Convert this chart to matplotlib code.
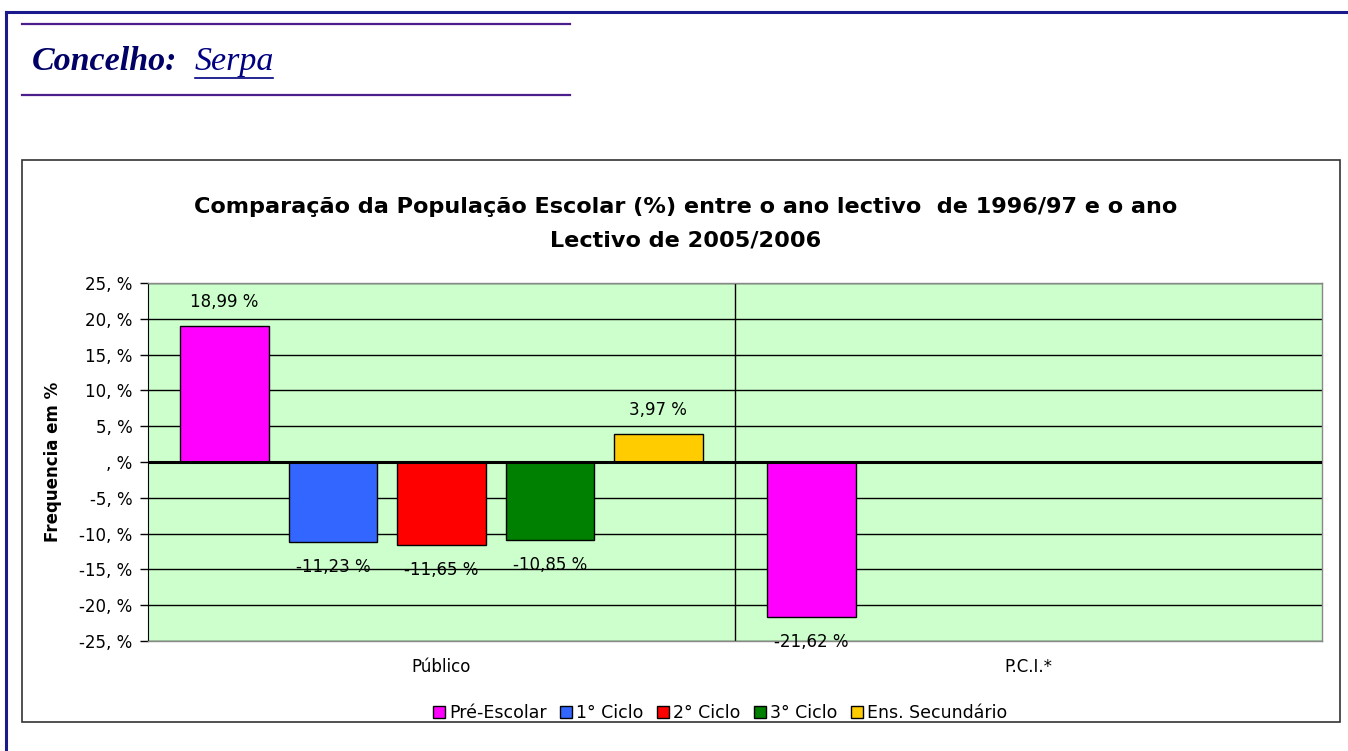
import matplotlib
matplotlib.use("Agg")
import matplotlib.pyplot as plt
import numpy as np
from matplotlib.patches import Rectangle
from matplotlib.lines import Line2D

categories = ["Público", "P.C.I.*"]
series_names = ["Pré-Escolar", "1° Ciclo", "2° Ciclo", "3° Ciclo", "Ens. Secundário"]
series_colors = ["#FF00FF", "#3366FF", "#FF0000", "#008000", "#FFCC00"]
values = [
    [18.99, -21.62],
    [-11.23, np.nan],
    [-11.65, np.nan],
    [-10.85, np.nan],
    [3.97, np.nan],
]
yticks = [25, 20, 15, 10, 5, 0, -5, -10, -15, -20, -25]
ytick_labels = ["25, %", "20, %", "15, %", "10, %", "5, %", ", %", "-5, %", "-10, %", "-15, %", "-20, %", "-25, %"]

W, H = 1348, 751
plt.rcParams['font.family'] = ['DejaVu Sans']
fig = plt.figure(figsize=(W / 100, H / 100), dpi=100)
fig.patch.set_facecolor("white")

def fx(x):
    return x / W

def fy(y):
    return 1 - y / H

# page border (navy)
fig.add_artist(Line2D([fx(6), fx(1348)], [fy(12), fy(12)], color="#1a1a8c", lw=2.2))
fig.add_artist(Line2D([fx(6), fx(6)], [fy(12), fy(751)], color="#1a1a8c", lw=2.2))
# purple rules
fig.add_artist(Line2D([fx(22), fx(570)], [fy(24), fy(24)], color="#4B1E8C", lw=1.6))
fig.add_artist(Line2D([fx(22), fx(570)], [fy(95), fy(95)], color="#4B1E8C", lw=1.6))
fig.text(fx(32), fy(62), "Concelho:", family="Liberation Serif", style="italic", weight="bold",
         fontsize=24.5, color="#000066", va="center", ha="left")
fig.text(fx(195), fy(62), "Serpa", family="Liberation Serif", style="italic",
         fontsize=24.5, color="#000080", va="center", ha="left")
fig.add_artist(Line2D([fx(195), fx(273)], [fy(78), fy(78)], color="#000080", lw=1.2))

# chart box
fig.add_artist(Rectangle((fx(22), fy(722)), fx(1340) - fx(22), fy(160) - fy(722),
                         fill=False, edgecolor="#333333", lw=1.2))

fig.text(fx(686), fy(207), "Comparação da População Escolar (%) entre o ano lectivo  de 1996/97 e o ano",
         ha="center", va="center", fontsize=16.1, weight="bold")
fig.text(fx(686), fy(241), "Lectivo de 2005/2006", ha="center", va="center", fontsize=16.1, weight="bold")

ax = fig.add_axes([fx(148), fy(641), fx(1322) - fx(148), fy(283) - fy(641)])
ax.set_facecolor("#CCFFCC")
ax.set_xlim(-0.5, 1.5)
ax.set_ylim(-25, 25)

x = np.arange(len(categories))
step = 0.1847
width = 0.151
for k, (name, col, vals) in enumerate(zip(series_names, series_colors, values)):
    pos = x + (k - 2) * step
    ax.bar(pos, vals, width=width, color=col, edgecolor="black", linewidth=1.0, zorder=3, label=name)
    for p, v in zip(pos, vals):
        if np.isnan(v):
            continue
        lab = f"{v:.2f} %".replace(".", ",")
        off = 17 if v >= 0 else -18
        ax.annotate(lab, (p, v), xytext=(0, off), textcoords="offset points", ha="center", va="center",
                    fontsize=12, zorder=5)

for t in yticks:
    ax.axhline(t, color="black", lw=1.0, zorder=1)
ax.axhline(0, color="black", lw=2.2, zorder=4)
ax.axvline(0.5, color="black", lw=1.0, zorder=1)

ax.set_yticks(yticks)
ax.set_yticklabels(ytick_labels, fontsize=12)
ax.set_xticks(x)
ax.set_xticklabels(categories, fontsize=12)
ax.tick_params(axis="x", length=0, pad=12)
ax.tick_params(axis="y", length=6, width=1.0, direction="out", pad=5)
for s in ["top", "right", "bottom"]:
    ax.spines[s].set_color("#888888")
    ax.spines[s].set_linewidth(1.0)
ax.spines["left"].set_color("black")
ax.set_ylabel("Frequencia em %", fontsize=12, weight="bold")
ax.yaxis.set_label_coords((62 - 148) / 1174, 0.5)

handles, labels = ax.get_legend_handles_labels()
leg = fig.legend(handles, labels, loc="center", bbox_to_anchor=(fx(720), fy(713)), ncol=5,
                 frameon=False, fontsize=12.5, handlelength=0.7, handleheight=0.7,
                 handletextpad=0.25, columnspacing=0.75, borderpad=0.2)

fig.savefig("out.png", dpi=100)
